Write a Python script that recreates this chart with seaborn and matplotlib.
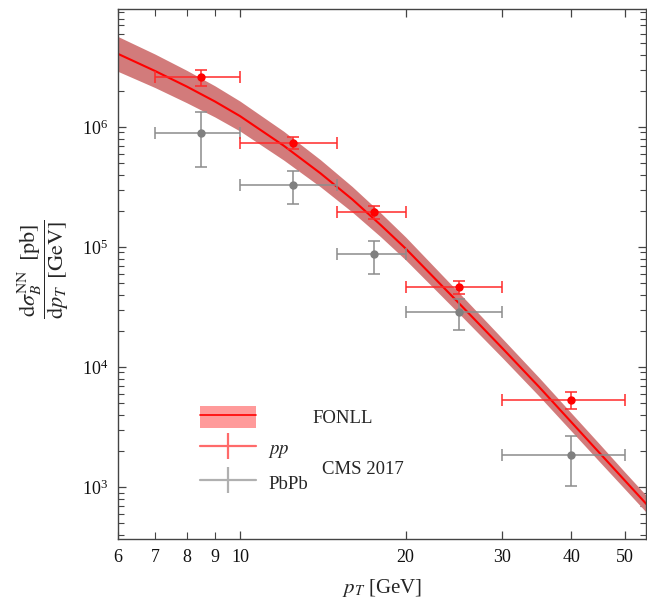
import numpy as np
import pandas as pd
import matplotlib
matplotlib.use('Agg')
import matplotlib.pyplot as plt
import matplotlib.ticker as mticker
from matplotlib.patches import Patch
from matplotlib.lines import Line2D
import seaborn as sns

# FONLL prediction
pt_grid = [6, 7, 8, 9, 10, 12, 14, 16, 18, 20, 25, 30, 35, 40, 45, 50, 55]
fonll_central = [4.06e6, 2.93e6, 2.17e6, 1.63e6, 1.23e6, 6.99e5, 4.11e5, 2.49e5,
                 1.53e5, 9.7e4, 3.40e4, 1.43e4, 6.79e3, 3.48e3, 1.93e3, 1.14e3, 708]
fonll_hi = [5.66e6, 4.05e6, 2.96e6, 2.20e6, 1.64e6, 9.21e5, 5.33e5, 3.18e5,
            1.93e5, 1.21e5, 4.16e4, 1.72e4, 8.11e3, 4.14e3, 2.29e3, 1.34e3, 832]
fonll_lo = [2.90e6, 2.13e6, 1.59e6, 1.21e6, 9.23e5, 5.30e5, 3.17e5, 1.95e5,
            1.22e5, 7.80e4, 2.79e4, 1.19e4, 5.69e3, 2.93e3, 1.63e3, 968, 603]

# CMS 2017 data
pt_center = [8.5, 12.5, 17.5, 25, 40]
pt_low = [7, 10, 15, 20, 30]
pt_high = [10, 15, 20, 30, 50]
pp_y = [2.59e6, 7.39e5, 1.97e5, 4.61e4, 5.31e3]
pp_hi = [2.99e6, 8.30e5, 2.21e5, 5.24e4, 6.15e3]
pp_lo = [2.21e6, 6.52e5, 1.71e5, 4.06e4, 4.45e3]
pbpb_y = [8.97e5, 3.31e5, 8.69e4, 2.86e4, 1.86e3]
pbpb_hi = [1.32e6, 4.33e5, 1.13e5, 3.67e4, 2.68e3]
pbpb_lo = [4.64e5, 2.28e5, 5.96e4, 2.03e4, 1.02e3]

sns.set_theme(style='ticks')
plt.rcParams['font.family'] = ['Liberation Serif', 'DejaVu Serif']
plt.rcParams['mathtext.fontset'] = 'stix'

fonll = pd.DataFrame({'pt': pt_grid, 'y': fonll_central})

fig = plt.figure(figsize=(6.47, 6.04), dpi=100)
ax = fig.add_axes([118 / 647, 65 / 604, 528 / 647, 530 / 604])
ax.set_xscale('log')
ax.set_yscale('log')

ax.fill_between(pt_grid, fonll_lo, fonll_hi, color='#d27b7b', lw=0, zorder=1)
sns.lineplot(data=fonll, x='pt', y='y', color='red', lw=1.5, ax=ax, zorder=2)

xerr = [np.subtract(pt_center, pt_low), np.subtract(pt_high, pt_center)]
ax.errorbar(pt_center, pbpb_y, xerr=xerr,
            yerr=[np.subtract(pbpb_y, pbpb_lo), np.subtract(pbpb_hi, pbpb_y)],
            fmt='o', color='#808080', ecolor='#8c8c8c', ms=5, elinewidth=1.1,
            capsize=4, capthick=1.1, zorder=3)
ax.errorbar(pt_center, pp_y, xerr=xerr,
            yerr=[np.subtract(pp_y, pp_lo), np.subtract(pp_hi, pp_y)],
            fmt='o', color='red', ecolor='#ff2a2a', ms=5, elinewidth=1.1,
            capsize=4, capthick=1.1, zorder=4)

ax.set_xlim(6, 54.7)
ax.set_ylim(369, 9.6e6)

ax.xaxis.set_major_locator(mticker.FixedLocator([10, 20, 30, 40, 50]))
ax.xaxis.set_minor_locator(mticker.FixedLocator([6, 7, 8, 9]))
ax.xaxis.set_major_formatter(mticker.FixedFormatter(['10', '20', '30', '40', '50']))
ax.xaxis.set_minor_formatter(mticker.FixedFormatter(['6', '7', '8', '9']))
ax.yaxis.set_major_locator(mticker.LogLocator(base=10, numticks=10))
ax.yaxis.set_minor_locator(mticker.LogLocator(base=10, subs=np.arange(2, 10), numticks=10))
ax.yaxis.set_major_formatter(mticker.LogFormatterMathtext())
ax.yaxis.set_minor_formatter(mticker.NullFormatter())

for s in ax.spines.values():
    s.set_color('#444444')
    s.set_linewidth(1.0)
ax.tick_params(which='both', direction='in', top=True, right=True,
               color='#444444', labelsize=13, labelcolor='#111111')
ax.tick_params(which='major', length=6, width=0.9, pad=7)
ax.tick_params(which='minor', length=4, width=0.8, pad=7)
ax.tick_params(axis='x', which='minor', length=5)

ax.set_xlabel(r'$p_T$ [GeV]', fontsize=15)
ax.xaxis.set_label_coords(0.5, -0.072)
ax.set_ylabel(r'$\dfrac{\mathrm{d}\sigma_B^{\mathrm{NN}}\;\;[\mathrm{pb}]}{\mathrm{d}p_T\;\;[\mathrm{GeV}]}$',
              fontsize=16)
ax.yaxis.set_label_coords(-0.088, 0.51)

# legend
leg1 = ax.legend(handles=[(Patch(facecolor='#ff9a9a', lw=0), Line2D([], [], color='red', lw=1.2))],
                 labels=['FONLL'], loc='center left', bbox_to_anchor=(0.155, 0.230),
                 handlelength=3.0, handleheight=1.45, handletextpad=3.0, frameon=False,
                 fontsize=13.5, borderpad=0, borderaxespad=0)
ax.add_artist(leg1)
h_pp = (Line2D([], [], color='#ff6a6a', lw=1.6),
        Line2D([], [], color='#ff6a6a', marker='|', ls='none', ms=19, mew=1.6))
h_pb = (Line2D([], [], color='#b0b0b0', lw=1.6),
        Line2D([], [], color='#b0b0b0', marker='|', ls='none', ms=19, mew=1.6))
ax.legend(handles=[h_pp, h_pb], labels=[r'$pp$', 'PbPb'], loc='upper left',
          bbox_to_anchor=(0.155, 0.192), handlelength=3.0, handleheight=1.4,
          handletextpad=0.65, labelspacing=0.62, frameon=False, fontsize=13.5,
          borderpad=0, borderaxespad=0, numpoints=1)
ax.text(0.386, 0.132, 'CMS 2017', transform=ax.transAxes, fontsize=13.5,
        ha='left', va='center')

fig.savefig('out.png', dpi=100)
